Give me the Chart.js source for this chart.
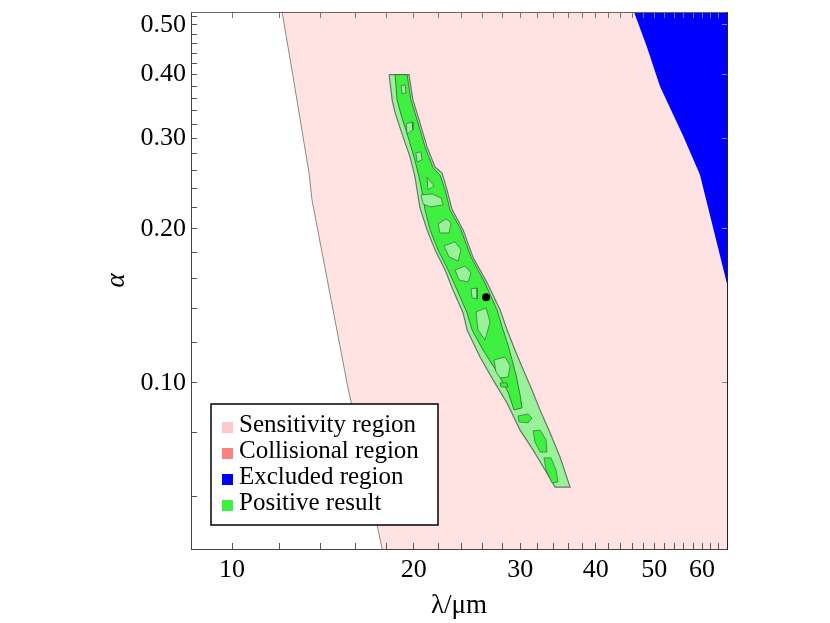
<!DOCTYPE html>
<html>
<head>
<meta charset="utf-8">
<script src="https://cdn.jsdelivr.net/npm/chart.js@4.4.0/dist/chart.umd.min.js"></script>
<style>
  body { margin: 0; background: #fff; }
  canvas { display: block; }
</style>
</head>
<body>
<canvas id="myChart" width="830" height="623"></canvas>
<script>
// axis ticks
var xMajor = [10, 20, 30, 40, 50, 60];
var xTicks = [10, 12, 14, 16, 18, 20, 22, 24, 26, 28, 30, 32, 34, 36, 38, 40, 42, 44, 46, 48, 50, 52, 54, 56, 58, 60, 62, 64];
var yMajor = [0.10, 0.20, 0.30, 0.40, 0.50];
var yTicks = [0.06, 0.08, 0.10, 0.12, 0.14, 0.16, 0.18, 0.20, 0.22, 0.24, 0.26, 0.28, 0.30,
              0.32, 0.34, 0.36, 0.38, 0.40, 0.42, 0.44, 0.46, 0.48, 0.50, 0.52];

// regions, [lambda (um), alpha]
var sensitivityEdge = [[11.98, 0.55], [12.10, 0.530], [12.60, 0.400], [13.41, 0.257], [13.56, 0.228],
                       [13.85, 0.200], [15.50, 0.100], [17.72, 0.0474], [17.88, 0.045]];
var sensitivityFar = [[100, 0.045], [100, 0.55]];

var excludedEdge = [[44.6, 0.60], [46.3, 0.530], [48.6, 0.454], [51.13, 0.379], [55.87, 0.303],
                    [59.53, 0.255], [65.92, 0.157], [69.3, 0.123]];
var excludedFar = [[100, 0.123], [100, 0.60]];

var positiveOuter = [[18.20, 0.400], [19.63, 0.400], [19.93, 0.357], [20.47, 0.322], [21.03, 0.289],
  [21.68, 0.264], [22.27, 0.257], [22.70, 0.238], [23.14, 0.218], [24.13, 0.199], [25.06, 0.176],
  [26.43, 0.157], [27.78, 0.139], [28.53, 0.127], [29.41, 0.116], [30.21, 0.1075], [31.38, 0.0969],
  [32.35, 0.0886], [33.61, 0.0799], [34.92, 0.0717], [36.28, 0.0626], [34.26, 0.0626], [32.98, 0.0676],
  [31.50, 0.0740], [29.98, 0.0809], [28.53, 0.0914], [27.05, 0.1014], [25.74, 0.1124], [24.50, 0.1269],
  [24.13, 0.1370], [23.22, 0.1519], [22.53, 0.1662], [21.68, 0.1819], [21.03, 0.1991], [20.47, 0.2197],
  [20.33, 0.2308], [20.09, 0.2524], [19.71, 0.2763], [19.19, 0.3023], [18.62, 0.3367], [18.41, 0.357]];

var positiveCore = [[18.62, 0.400], [19.49, 0.400], [19.78, 0.357], [20.32, 0.3219], [20.87, 0.289],
  [21.52, 0.263], [22.10, 0.2547], [22.53, 0.2382], [22.96, 0.2177], [23.94, 0.1991], [24.87, 0.1762],
  [26.23, 0.1567], [27.46, 0.1389], [28.10, 0.1269], [28.64, 0.1186], [29.08, 0.1109], [29.53, 0.1036],
  [29.98, 0.0948], [30.21, 0.0894], [29.30, 0.0886], [28.64, 0.0960], [27.46, 0.1051], [26.03, 0.116],
  [24.97, 0.1269], [24.50, 0.137], [23.58, 0.1519], [22.79, 0.1662], [21.93, 0.1819], [21.27, 0.1991],
  [20.87, 0.2177], [20.71, 0.2308], [20.40, 0.2524], [20.01, 0.2763], [19.56, 0.3023], [19.05, 0.3337],
  [18.76, 0.357]];

// weaker patches inside the core
var patches = [
  [[19.05, 0.3802], [19.34, 0.3819], [19.42, 0.3685], [19.12, 0.3669]],
  [[19.42, 0.3205], [19.86, 0.3234], [19.93, 0.3119], [19.49, 0.3064]],
  [[20.16, 0.2814], [20.55, 0.2826], [20.63, 0.2726], [20.24, 0.2701]],
  [[21.03, 0.2524], [21.60, 0.2424], [21.11, 0.2382]],
  [[20.55, 0.2329], [21.44, 0.2339], [22.18, 0.2297], [22.36, 0.2226], [21.27, 0.2207], [20.71, 0.2236]],
  [[21.93, 0.2044], [22.61, 0.2091], [23.05, 0.2054], [22.87, 0.1963], [22.10, 0.1963]],
  [[22.44, 0.1852], [23.40, 0.1886], [23.94, 0.1819], [23.67, 0.1731], [22.87, 0.1762]],
  [[23.40, 0.1662], [24.31, 0.1692], [24.87, 0.1640], [24.59, 0.1575], [23.76, 0.1589]],
  [[24.87, 0.1526], [25.45, 0.1532], [25.45, 0.1459], [24.97, 0.1466]],
  [[25.35, 0.1376], [26.33, 0.1401], [26.74, 0.1315], [26.23, 0.1213], [25.54, 0.1269]],
  [[27.15, 0.1109], [28.31, 0.1124], [28.86, 0.1080], [28.64, 0.1027], [27.78, 0.1023], [27.36, 0.1051]]
];
// stronger islands in the lower tail
var islands = [
  [[27.78, 0.1000], [28.53, 0.1000], [28.64, 0.0982], [27.89, 0.0982]],
  [[29.75, 0.0862], [30.91, 0.0870], [31.38, 0.0854], [30.91, 0.0836], [29.87, 0.0839]],
  [[31.50, 0.0806], [32.35, 0.0809], [33.11, 0.0774], [33.23, 0.0733], [32.35, 0.0733], [31.74, 0.0767]],
  [[32.85, 0.0714], [33.74, 0.0714], [34.39, 0.0676], [34.65, 0.0641], [33.87, 0.0638], [33.11, 0.0676]]
];
var bestFit = [[26.34, 0.147]];

var legendNames = ['Sensitivity region', 'Collisional region', 'Excluded region', 'Positive result'];
var legendColors = ['#ffc8c8', '#ff8080', '#0000ff', '#40f040'];

var serif = "'Liberation Serif', 'Times New Roman', serif";
var pink = '#ffe3e3';
var lightGreen = '#98f298';
var brightGreen = '#40f040';
var contour = 'rgba(50,105,50,0.85)';

function pts(arr, close) {
  var out = arr.map(function (p) { return {x: p[0], y: p[1]}; });
  if (close) out.push({x: arr[0][0], y: arr[0][1]});
  return out;
}
function region(arr, fillColor, lineColor, lineWidth) {
  return {
    data: pts(arr, true), showLine: true, fill: 'shape',
    backgroundColor: fillColor, borderColor: lineColor, borderWidth: lineWidth,
    pointRadius: 0, pointHoverRadius: 0
  };
}

var datasets = [];
datasets.push({data: pts(bestFit, false), pointRadius: 4, backgroundColor: '#000', borderWidth: 0});
islands.forEach(function (p) { datasets.push(region(p, brightGreen, contour, 0.8)); });
patches.forEach(function (p) { datasets.push(region(p, lightGreen, contour, 0.8)); });
datasets.push(region(positiveCore, brightGreen, contour, 1));
datasets.push(region(positiveOuter, lightGreen, '#707070', 1.2));
datasets.push(region(excludedEdge.concat(excludedFar), '#0000ff', '#0000ff', 0));
datasets.push({data: pts(sensitivityEdge, false), showLine: true, fill: false,
               borderColor: '#8a8a8a', borderWidth: 1, pointRadius: 0});
datasets.push(region(sensitivityEdge.concat(sensitivityFar), pink, pink, 0));

// legend box drawn over the plot, lower left
var boxLegend = {
  id: 'boxLegend',
  afterDatasetsDraw: function (chart) {
    var ctx = chart.ctx, ca = chart.chartArea;
    var left = ca.left + 20, top = ca.bottom - 145, w = 227, h = 121;
    ctx.save();
    ctx.fillStyle = '#fff';
    ctx.fillRect(left, top, w, h);
    ctx.strokeStyle = '#000';
    ctx.lineWidth = 1.5;
    ctx.strokeRect(left, top, w, h);
    ctx.font = '25px ' + serif;
    ctx.textBaseline = 'alphabetic';
    for (var i = 0; i < legendNames.length; i++) {
      var base = top + 28 + i * 26;
      ctx.fillStyle = legendColors[i];
      ctx.fillRect(left + 11, base - 10, 11, 11);
      ctx.fillStyle = '#000';
      ctx.fillText(legendNames[i], left + 28, base);
    }
    ctx.restore();
  }
};

var tickFont = {family: serif, size: 26};

function noPad(s) {
  s.paddingTop = 0; s.paddingBottom = 0; s.paddingLeft = 0; s.paddingRight = 0;
}

var ctx = document.getElementById('myChart');
var myChart = new Chart(ctx, {
  type: 'scatter',
  data: {datasets: datasets},
  options: {
    responsive: false,
    animation: false,
    events: [],
    layout: {padding: {left: 0, right: 103, top: 12, bottom: 0}},
    plugins: {legend: {display: false}, tooltip: {enabled: false}},
    scales: {
      x: {
        type: 'logarithmic', position: 'bottom', min: 8.55, max: 66, bounds: 'data',
        afterBuildTicks: function (s) { s.ticks = xTicks.map(function (v) { return {value: v}; }); },
        afterFit: function (s) { s.height = 74; noPad(s); },
        ticks: {
          autoSkip: false, maxRotation: 0, padding: 12, color: '#000', font: tickFont, z: 1,
          callback: function (v) { return xMajor.indexOf(v) >= 0 ? String(v) : ''; }
        },
        grid: {drawOnChartArea: false, tickLength: -6, color: '#555', z: 1},
        border: {color: '#444', width: 1, z: 1},
        title: {display: true, text: 'λ/μm', color: '#000', font: {family: serif, size: 27},
                padding: {top: 0, bottom: 1}}
      },
      x2: {
        type: 'logarithmic', position: 'top', min: 8.55, max: 66, bounds: 'data',
        afterBuildTicks: function (s) { s.ticks = xTicks.map(function (v) { return {value: v}; }); },
        afterFit: function (s) { s.height = 0; noPad(s); },
        ticks: {display: false},
        grid: {drawOnChartArea: false, tickLength: -6, color: '#777', z: 1},
        border: {color: '#666', width: 1, z: 1}
      },
      y: {
        type: 'logarithmic', position: 'left', min: 0.0474, max: 0.530, bounds: 'data',
        afterBuildTicks: function (s) { s.ticks = yTicks.map(function (v) { return {value: v}; }); },
        afterFit: function (s) { s.width = 191; noPad(s); },
        ticks: {
          autoSkip: false, padding: 11, color: '#000', font: tickFont, z: 1,
          callback: function (v) { return yMajor.indexOf(v) >= 0 ? v.toFixed(2) : ''; }
        },
        grid: {drawOnChartArea: false, tickLength: -6, color: '#555', z: 1},
        border: {color: '#444', width: 1, z: 1},
        title: {display: true, text: 'α', color: '#000', font: {family: serif, size: 27, style: 'italic'},
                padding: {top: 101, bottom: 0}}
      },
      y2: {
        type: 'logarithmic', position: 'right', min: 0.0474, max: 0.530, bounds: 'data',
        afterBuildTicks: function (s) { s.ticks = yMajor.map(function (v) { return {value: v}; }); },
        afterFit: function (s) { s.width = 0; noPad(s); },
        ticks: {display: false},
        grid: {drawOnChartArea: false, tickLength: -5, color: '#888', z: 1},
        border: {color: '#222', width: 1, z: 1}
      }
    }
  },
  plugins: [boxLegend]
});
</script>
</body>
</html>
